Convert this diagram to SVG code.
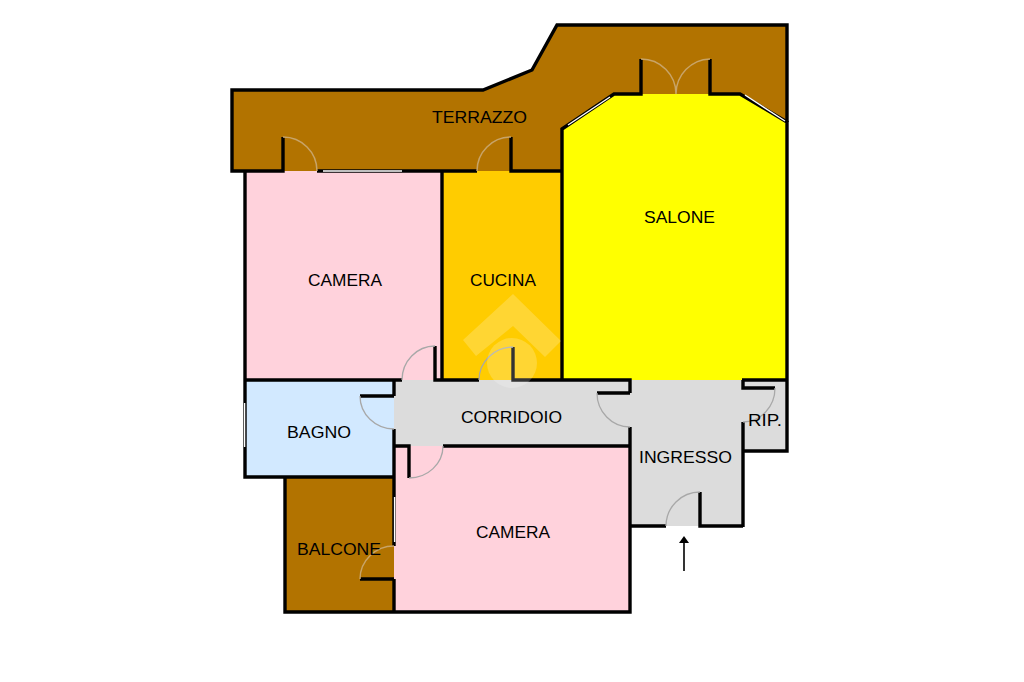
<svg xmlns="http://www.w3.org/2000/svg" width="1024" height="682" viewBox="0 0 1024 682">
<style>
.wall{fill:none;stroke:#000;stroke-width:3.4;stroke-linecap:butt;stroke-linejoin:miter}
.win{fill:none;stroke:#fff;stroke-width:1.4}
.door{fill:none;stroke:#a8a8a8;stroke-width:1.3}
.doorb{fill:none;stroke:#c8a468;stroke-width:1.5}
text{font-family:"Liberation Sans",Arial,sans-serif;font-size:16.5px;fill:#000}
</style>
<rect width="1024" height="682" fill="#fff"/>
<g id="fills">
<polygon id="terrazzo-fill" fill="#b27300" points="232,90 483,90 532,70 557,25 787,25 787,122 740,94 614,94 562,129 562,171 232,171"/>
<rect id="camera1-fill" x="245" y="171" width="197" height="209" fill="#ffd2dc"/>
<rect id="cucina-fill" x="442" y="171" width="120" height="209" fill="#ffcc00"/>
<polygon id="salone-fill" fill="#ffff00" points="562,129 614,94 740,94 787,122 787,380 562,380"/>
<rect id="bagno-fill" x="245" y="380" width="149" height="97" fill="#d2e9ff"/>
<rect id="camera2-fill" x="394" y="446" width="236" height="166" fill="#ffd2dc"/>
<rect id="balcone-fill" x="285" y="477" width="109" height="135" fill="#b27300"/>
<polygon id="grey-fill" fill="#dcdcdc" points="394,380 787,380 787,451 743,451 743,526 630,526 630,446 394,446"/>
</g>
<g id="walls">
<path class="wall" d="M283,137V171H232V90H483L532,70L557,25H787V122"/>
<path class="wall" d="M317,171H477M511,137V171H562"/>
<path class="wall" d="M245,170V477H394M285,477V612H630V427M394,380V396M394,429V546M394,579V612"/>
<path class="wall" d="M245,380H402M435,346V380H479M442,171V380M513,347V380H630V393M360,396H394"/>
<path class="wall" d="M394,446H409V478M443,446H630M597,393H630"/>
<path class="wall" d="M562,380V129L614,94H641V59M710,59V94H740L787,122V451H743V422M743,527V422M742,380H787M743,380V388H775"/>
<path class="wall" d="M630,526H666M700,492V526H743"/>
<path class="wall" d="M360,579H394"/>
</g>
<g id="windows">
<path class="win" d="M323,171H402M244.6,403V447M394.6,497V542M568,125L610,97M745,95L785,121"/>
</g>
<g id="doors">
<path class="doorb" d="M283,137A34,34 0 0 1 317,171M511,137A34,34 0 0 0 477,171M641,59A35,35 0 0 1 676,94M710,59A35,35 0 0 0 676,94M394,546A34,33 0 0 0 360,579"/>
<path class="door" d="M435,346A33,34 0 0 0 402,380M360,396A34,33 0 0 0 394,429M409,478A34,32 0 0 0 443,446M513,347A34,33 0 0 0 479,380M597,393A33,34 0 0 0 630,427M775,388A32,34 0 0 1 743,422M700,492A34,34 0 0 0 666,526"/>
</g>
<g id="watermark" fill="#fff" fill-opacity=".2">
<polygon points="513,294 561,341 545,357 513,326 476,356 463,340"/>
<circle cx="512" cy="363" r="25"/>
</g>
<g id="labels">
<text id="terrazzo" x="432" y="123" textLength="95" lengthAdjust="spacingAndGlyphs">TERRAZZO</text>
<text id="salone" x="644" y="223" textLength="71" lengthAdjust="spacingAndGlyphs">SALONE</text>
<text id="camera1" x="308" y="286" textLength="74" lengthAdjust="spacingAndGlyphs">CAMERA</text>
<text id="cucina" x="470" y="286" textLength="66" lengthAdjust="spacingAndGlyphs">CUCINA</text>
<text id="bagno" x="287" y="438" textLength="64" lengthAdjust="spacingAndGlyphs">BAGNO</text>
<text id="corridoio" x="461" y="423" textLength="101" lengthAdjust="spacingAndGlyphs">CORRIDOIO</text>
<text id="ingresso" x="639" y="463" textLength="93" lengthAdjust="spacingAndGlyphs">INGRESSO</text>
<text id="rip" x="748" y="426" textLength="34" lengthAdjust="spacingAndGlyphs">RIP.</text>
<text id="camera2" x="476" y="538" textLength="74" lengthAdjust="spacingAndGlyphs">CAMERA</text>
<text id="balcone" x="297" y="555" textLength="84" lengthAdjust="spacingAndGlyphs">BALCONE</text>
</g>
<g id="connectors">
<path d="M684,571V542" fill="none" stroke="#000" stroke-width="1.6"/>
<polygon points="684,536 679,543 689,543" fill="#000"/>
</g>
</svg>
